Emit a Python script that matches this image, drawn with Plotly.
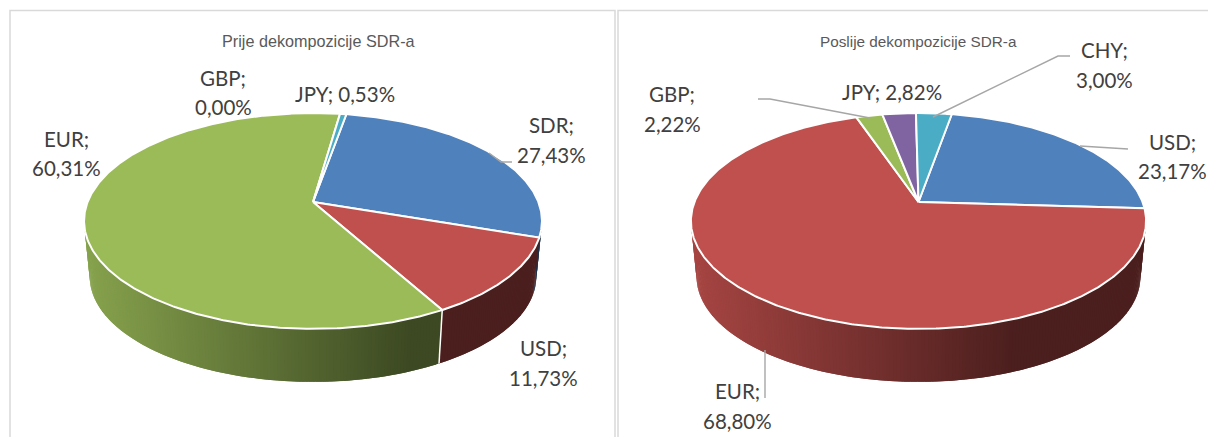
import math
import plotly.graph_objects as go

# ---------- data ----------
left_title = "Prije dekompozicije SDR-a"
left_categories = ["SDR", "USD", "EUR", "GBP", "JPY"]
left_values = [27.43, 11.73, 60.31, 0.00, 0.53]

right_title = "Poslije dekompozicije SDR-a"
right_categories = ["USD", "EUR", "GBP", "JPY", "CHY"]
right_values = [23.17, 68.80, 2.22, 2.82, 3.00]

# ---------- style ----------
COLORS = {"blue": "#4F81BD", "red": "#C0504D", "green": "#9BBB59",
          "purple": "#8064A2", "teal": "#4BACC6"}
left_colors = ["blue", "red", "green", "purple", "teal"]
right_colors = ["blue", "red", "green", "purple", "teal"]
FIRST_ANGLE = 10.0
TOP_Y, FRONT_Y_SCALE, VANISH_Y = 202.0, 0.975, 2448.0
PERSP, DEPTH_A, RADIUS = 0.176, -69.0, 225.4
LABEL_FONT = "Lato"
LABEL_SIZE = 20.5
LABEL_COLOR = "#404040"
STEP = 0.75


def project(cx, theta_deg, radius):
    t = math.radians(theta_deg)
    u, v = math.sin(t), math.cos(t)
    w = 1 + PERSP * v
    return cx + radius * u / w, (TOP_Y + DEPTH_A * v) / w


def lower(cx, x, y):
    return cx + (x - cx) * FRONT_Y_SCALE, VANISH_Y + (y - VANISH_Y) * FRONT_Y_SCALE


def shade(hexcolor, x, x_left):
    t = max(0.0, min(1.0, (x - x_left) / 325.0))
    f = 0.87 + (0.395 - 0.87) * t
    r, g, b = (int(hexcolor[i:i + 2], 16) for i in (1, 3, 5))
    return f"rgb({int(r * f)},{int(g * f)},{int(b * f)})"


def arange(a, b, step):
    n = max(1, int(math.ceil((b - a) / step)))
    return [a + (b - a) * i / n for i in range(n + 1)]


fig = go.Figure()


def add_pie(cx, values, colors, radius):
    bounds = [FIRST_ANGLE]
    for val in values:
        bounds.append(bounds[-1] + val * 3.6)
    x_left = cx - 229
    # walls: each strip overlaps the next one so no seam shows
    for val, cname, a, b in zip(values, colors, bounds[:-1], bounds[1:]):
        if val <= 0:
            continue
        ticks = arange(a, b, STEP)
        for i, (lo, hi) in enumerate(zip(ticks[:-1], ticks[1:])):
            mid = (lo + hi) / 2
            if math.cos(math.radians(mid)) > 0.15:
                continue
            hi2 = ticks[min(i + 2, len(ticks) - 1)]
            p0 = project(cx, lo, radius)
            p1 = project(cx, hi2, radius)
            q0 = lower(cx, *p0)
            q1 = lower(cx, *p1)
            c = shade(COLORS[cname], (p0[0] + project(cx, hi, radius)[0]) / 2, x_left)
            fig.add_trace(go.Scatter(
                x=[p0[0], p1[0], q1[0], q0[0], p0[0]],
                y=[p0[1], p1[1], q1[1], q0[1], p0[1]],
                mode="lines", fill="toself", fillcolor=c,
                line=dict(color=c, width=0), hoverinfo="skip"))
    # wall separators on the visible front
    for b in bounds[:-1]:
        if 120 < (b % 360) < 240:
            p = project(cx, b, radius)
            q = lower(cx, *p)
            fig.add_trace(go.Scatter(x=[p[0], q[0]], y=[p[1], q[1]], mode="lines",
                                     line=dict(color="white", width=1.5), hoverinfo="skip"))
    # top face
    for val, cname, a, b in zip(values, colors, bounds[:-1], bounds[1:]):
        if val <= 0:
            continue
        pts = [project(cx, t, radius) for t in arange(a, b, 0.5)]
        xs = [cx] + [p[0] for p in pts] + [cx]
        ys = [TOP_Y] + [p[1] for p in pts] + [TOP_Y]
        fig.add_trace(go.Scatter(x=xs, y=ys, mode="lines", fill="toself",
                                 fillcolor=COLORS[cname],
                                 line=dict(color="white", width=2), hoverinfo="skip"))


add_pie(313.0, left_values, left_colors, RADIUS)
add_pie(918.5, right_values, right_colors, RADIUS * 0.994)

# leader lines
leaders = [
    ([489, 501, 512], [153, 162, 162]),
    ([758, 770, 870], [99, 99, 118]),
    ([1070, 1058, 933], [56, 56, 117]),
    ([1080, 1128], [146, 149]),
    ([765, 765], [350, 398]),
]
for lx, ly in leaders:
    fig.add_trace(go.Scatter(x=lx, y=ly, mode="lines",
                             line=dict(color="#A6A6A6", width=1.4), hoverinfo="skip"))


def pct(v):
    return f"{v:.2f}".replace(".", ",") + "%"


def txt(x, y, s):
    fig.add_annotation(x=x, y=y, text=s, showarrow=False, xanchor="center", yanchor="middle",
                       font=dict(family=LABEL_FONT, size=LABEL_SIZE, color=LABEL_COLOR))


two_line = [
    (left_categories, left_values, "GBP", 223, 78, 107),
    (left_categories, left_values, "EUR", 66, 139, 168),
    (left_categories, left_values, "SDR", 551, 125, 155),
    (left_categories, left_values, "USD", 543, 348, 378),
    (right_categories, right_values, "GBP", 672, 94, 124),
    (right_categories, right_values, "CHY", 1104, 50, 80),
    (right_categories, right_values, "USD", 1172, 142, 171),
    (right_categories, right_values, "EUR", 737, 391, 421),
]
for cats, vals, name, x, y1, y2 in two_line:
    txt(x, y1, f"{name};")
    txt(x, y2, pct(vals[cats.index(name)]))
txt(345, 94, f"JPY; {pct(left_values[left_categories.index('JPY')])}")
txt(892, 92, f"JPY; {pct(right_values[right_categories.index('JPY')])}")

for x, s, size in ((318, left_title, 16.2), (918, right_title, 15.3)):
    fig.add_annotation(x=x, y=41, text=s, showarrow=False, xanchor="center", yanchor="middle",
                       font=dict(family="Liberation Sans", size=size, color="#595959"))

# panel frames
for x0, x1 in ((10, 615), (618, 1210)):
    fig.add_shape(type="rect", x0=x0, x1=x1, y0=10.5, y1=445,
                  line=dict(color="#D9D9D9", width=1.5), fillcolor="rgba(0,0,0,0)", layer="below")

fig.update_layout(
    width=1208, height=437, margin=dict(l=0, r=0, t=0, b=0),
    paper_bgcolor="white", plot_bgcolor="white", showlegend=False,
    xaxis=dict(range=[0, 1208], visible=False, fixedrange=True),
    yaxis=dict(range=[437, 0], visible=False, fixedrange=True),
)
fig.write_html("out.html", config={"displayModeBar": False},
               post_script="document.body.style.margin='0';")
